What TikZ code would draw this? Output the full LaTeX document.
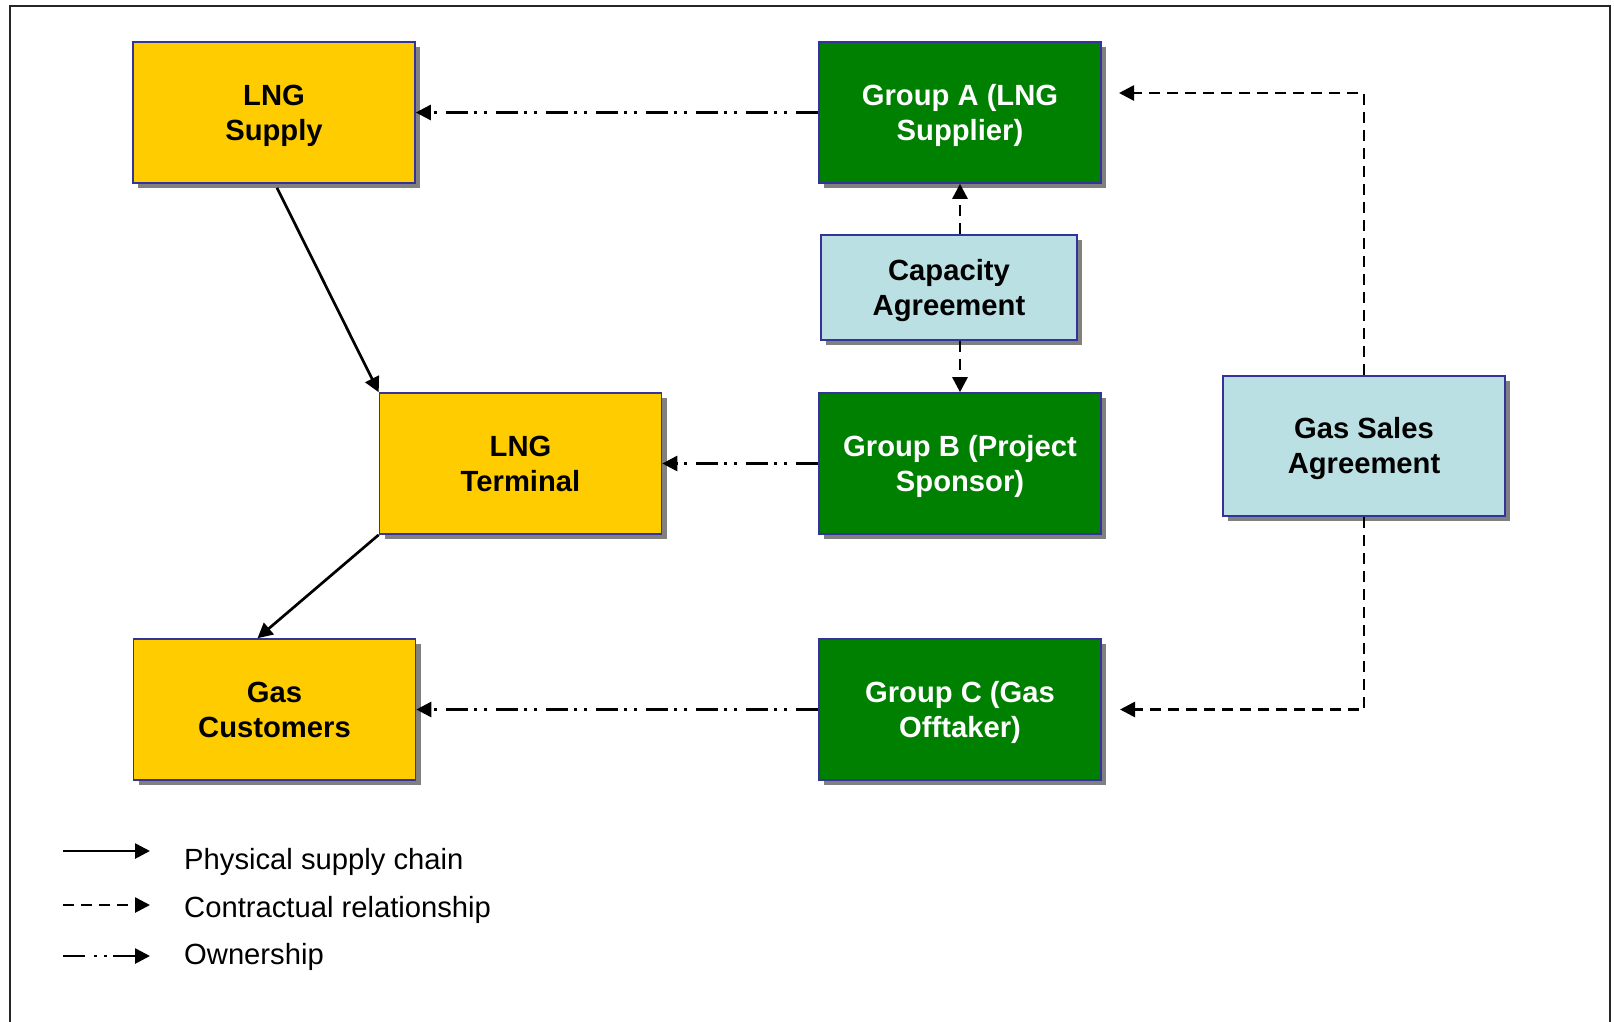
\documentclass[tikz,border=0pt]{standalone}
\usepackage{fontspec}
\setmainfont{Liberation Sans}
\usetikzlibrary{arrows.meta,shadows,calc}
\definecolor{lngyellow}{HTML}{FFCC00}
\definecolor{grpgreen}{HTML}{008000}
\definecolor{agrblue}{HTML}{BBE0E3}
\definecolor{bordblue}{HTML}{333399}
\definecolor{shadowgray}{HTML}{808080}
\tikzset{
  box/.style={draw=bordblue, line width=1.6pt, inner sep=0pt, align=center,
    minimum width=282pt, minimum height=141pt,
    text height=55pt, text depth=0pt,
    font=\bfseries\fontsize{29.2}{35}\selectfont,
    drop shadow={shadow xshift=5pt, shadow yshift=-5pt, fill=shadowgray, opacity=1}},
  yellowbox/.style={box, fill=lngyellow, text=black},
  greenbox/.style={box, fill=grpgreen, text=white},
  bluebox/.style={box, fill=agrblue, text=black},
  tipA/.style={-{Triangle[length=15pt,width=15pt]}},
  phys/.style={tipA, line width=2.7pt},
  contract/.style={tipA, line width=2.7pt, dash pattern=on 11pt off 7pt},
  owner/.style={tipA, line width=2.7pt, dash pattern=on 22pt off 9pt on 3pt off 7pt on 3pt off 6pt},
  legtext/.style={anchor=base west, inner sep=0pt, font=\fontsize{29.2}{34}\selectfont}
}
\begin{document}
\begin{tikzpicture}[x=1pt,y=-1pt]
\useasboundingbox (0,0) rectangle (1614,1021);
\draw[line width=2.2pt, color=black!85] (10,1030) -- (10,6) -- (1610,6) -- (1610,1030);

\node[yellowbox] (supply) at (274,112.5) {LNG\\Supply};
\node[yellowbox] (terminal) at (520.5,463.5) {LNG\\Terminal};
\node[yellowbox] (customers) at (274.5,709.5) {Gas\\Customers};
\node[greenbox] (groupA) at (960,112.5) {Group A (LNG\\Supplier)};
\node[greenbox] (groupB) at (960,463.5) {Group B (Project\\Sponsor)};
\node[greenbox] (groupC) at (960,709.5) {Group C (Gas\\Offtaker)};
\node[bluebox, minimum width=256pt, minimum height=105pt] (capacity) at (949,287.5) {Capacity\\Agreement};
\node[bluebox, minimum height=140pt] (gsa) at (1364,446) {Gas Sales\\Agreement};

% physical supply chain
\draw[phys] ([xshift=3pt,yshift=-4pt]supply.south) -- (terminal.north west);
\draw[phys] (terminal.south west) -- ([xshift=-17pt]customers.north);

% ownership
\draw[owner] (groupA.west) -- (supply.east);
\draw[owner] (groupB.west) -- (terminal.east);
\draw[owner] (groupC.west) -- (customers.east);

% contractual
\draw[contract] (groupA.south |- capacity.north) -- (groupA.south);
\draw[contract] (groupA.south |- capacity.south) -- (groupB.north);
\coordinate (aIn) at (1119,93);
\coordinate (cIn) at (1120,709.5);
\draw[contract] (gsa.north) |- (aIn);
\draw[contract] (gsa.south) |- (cIn);

% legend
\coordinate (l1a) at (63,851); \coordinate (l1b) at (150,851);
\coordinate (l2a) at (63,905); \coordinate (l2b) at (150,905);
\coordinate (l3a) at (63,956); \coordinate (l3b) at (150,956);
\draw[phys] (l1a) -- (l1b);
\draw[contract] (l2a) -- (l2b);
\draw[owner] (l3a) -- (l3b);
\node[legtext] (t1) at (184,869) {Physical supply chain};
\node[legtext] (t2) at (184,917) {Contractual relationship};
\node[legtext] (t3) at (184,964) {Ownership};
\end{tikzpicture}
\end{document}
